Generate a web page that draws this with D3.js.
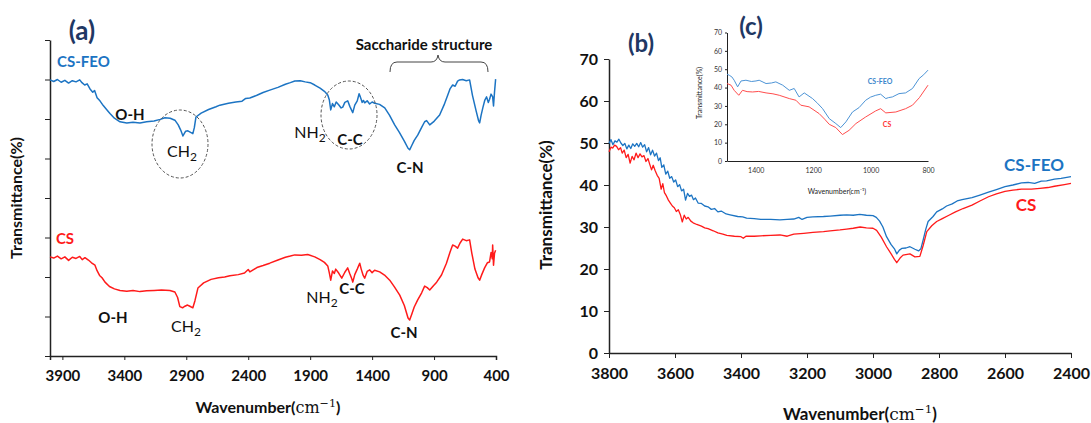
<!DOCTYPE html>
<html>
<head>
<meta charset="utf-8">
<script src="https://cdn.jsdelivr.net/npm/d3@7"></script>
<style>
  body { margin: 0; background: #fff; }
  text { font-family: Lato, "Open Sans", sans-serif; }
  .axis path, .axis line { stroke: #222; }
</style>
</head>
<body>
<svg width="1091" height="423"></svg>
<script>
// ---- data (wavenumber cm-1, transmittance) ----
// panel (a), arbitrary offset units
var feoA = [[4000,69.9],[3970,69.5],[3940,70.0],[3910,69.3],[3880,69.8],[3850,69.1],[3820,69.7],[3790,69.4],[3760,69.9],[3742,69.2],
  [3720,68.6],[3700,68.9],[3677,67.6],[3655,66.8],[3640,67.2],[3620,65.4],[3597,64.6],[3570,63.4],[3540,62.3],[3516,61.4],[3480,60.2],
  [3435,59.3],[3380,59.0],[3330,59.2],[3274,59.0],[3220,59.3],[3160,59.5],[3110,59.9],[3073,60.3],[3030,60.2],[2992,59.7],[2965,58.5],
  [2945,57.2],[2927,55.7],[2905,56.9],[2887,57.0],[2865,56.6],[2847,56.3],[2835,57.8],[2822,60.5],[2780,61.5],[2720,62.4],[2660,63.1],
  [2629,63.5],[2560,64.0],[2500,64.3],[2450,64.5],[2420,65.2],[2387,65.3],[2330,66.0],[2280,66.7],[2226,67.3],[2160,68.0],[2100,68.8],
  [2060,69.2],[2024,69.6],[1980,69.7],[1940,69.4],[1900,69.2],[1863,68.6],[1820,67.8],[1785,67.0],[1758,66.1],[1745,64.8],[1734,62.3],
  [1720,63.9],[1705,63.1],[1690,64.3],[1670,63.6],[1650,62.8],[1637,63.0],[1620,64.2],[1597,64.6],[1580,63.2],[1565,62.2],[1556,61.6],
  [1540,63.5],[1520,64.6],[1505,66.4],[1495,65.6],[1480,64.2],[1470,64.7],[1460,64.1],[1440,64.6],[1420,63.8],[1400,64.3],[1379,64.0],
  [1340,63.7],[1298,62.8],[1260,61.0],[1218,58.5],[1180,56.6],[1140,54.4],[1110,52.6],[1097,52.2],[1080,53.3],[1060,54.6],[1032,55.9],
  [1000,57.9],[976,59.3],[960,59.6],[935,58.5],[900,59.4],[855,61.0],[820,63.5],[790,66.0],[770,67.7],[750,68.6],[730,68.3],[710,69.6],
  [694,69.9],[670,70.0],[640,69.7],[613,69.9],[590,66.0],[560,62.0],[540,59.5],[532,59.0],[520,61.0],[505,63.0],[490,64.8],[476,65.6],
  [462,64.2],[452,65.0],[440,66.3],[427,65.6],[420,63.3],[412,66.8],[403,70.1]];
var csA = [[4000,25.1],[3970,24.8],[3940,25.3],[3910,24.6],[3880,25.1],[3850,24.2],[3820,25.0],[3790,24.7],[3760,25.2],[3740,24.4],
  [3718,24.9],[3690,24.3],[3665,23.6],[3637,23.0],[3620,21.6],[3600,20.4],[3580,19.8],[3556,18.7],[3520,17.6],[3480,17.0],[3435,16.6],
  [3380,16.4],[3330,16.6],[3274,16.3],[3220,16.5],[3160,16.6],[3100,16.7],[3032,16.6],[2992,16.2],[2970,14.8],[2952,12.5],[2930,12.2],
  [2911,12.6],[2890,12.9],[2871,12.6],[2847,12.2],[2830,14.0],[2806,17.2],[2760,18.5],[2700,19.4],[2640,19.8],[2590,20.0],[2548,20.3],
  [2480,20.6],[2430,21.0],[2400,21.9],[2387,21.3],[2330,22.4],[2280,22.9],[2226,23.5],[2160,24.3],[2100,25.0],[2060,25.3],[2024,25.6],
  [1970,25.5],[1920,25.7],[1863,25.1],[1820,24.4],[1785,23.7],[1758,22.8],[1745,21.0],[1734,19.2],[1720,21.5],[1705,20.9],[1694,22.0],
  [1670,21.0],[1645,19.7],[1620,21.2],[1597,22.3],[1580,20.8],[1565,19.6],[1556,18.7],[1540,20.6],[1520,22.0],[1500,23.5],[1488,22.0],
  [1472,20.4],[1460,19.7],[1440,21.4],[1419,21.8],[1400,21.1],[1380,21.7],[1339,21.3],[1300,20.5],[1258,19.2],[1220,17.5],[1177,15.4],
  [1140,12.8],[1110,9.6],[1097,9.1],[1080,10.6],[1060,12.4],[1032,14.2],[1000,16.0],[976,17.7],[955,17.3],[935,16.7],[905,17.8],
  [879,18.7],[840,20.5],[800,23.5],[770,26.4],[750,28.1],[730,27.8],[710,27.3],[690,28.6],[669,29.6],[640,29.2],[613,29.4],[595,26.0],
  [570,22.0],[545,19.8],[532,19.2],[515,20.6],[492,22.3],[470,23.6],[452,23.8],[440,26.2],[430,24.6],[427,28.1],[420,23.0],[412,26.0],[403,26.8]];

// panel (b)
var feoB = [[3800,49.9],[3794,50.8],[3788,49.6],[3782,50.5],[3776,50.2],[3770,50.9],[3764,50.0],[3758,49.4],[3752,49.9],[3746,48.6],
  [3740,49.5],[3734,48.7],[3728,49.8],[3722,49.2],[3716,49.9],[3710,49.1],[3704,50.1],[3698,49.0],[3692,49.6],[3686,47.9],[3680,48.9],
  [3674,47.2],[3668,48.3],[3662,46.9],[3656,47.6],[3650,45.8],[3645,46.5],[3640,44.2],[3634,44.8],[3628,42.6],[3622,43.3],[3616,41.6],
  [3610,42.0],[3604,40.7],[3598,41.2],[3592,39.6],[3586,40.1],[3580,38.6],[3574,39.0],[3568,36.4],[3562,38.0],[3556,37.3],[3550,37.6],
  [3544,36.5],[3538,36.9],[3530,35.7],[3520,35.6],[3510,35.0],[3500,34.8],[3490,34.2],[3480,34.4],[3470,33.6],[3460,33.8],[3445,33.1],
  [3433,32.9],[3410,32.5],[3395,32.4],[3383,32.1],[3360,32.0],[3340,31.8],[3310,31.8],[3282,31.7],[3260,31.8],[3240,31.9],[3225,32.3],
  [3215,31.8],[3200,32.3],[3182,32.4],[3150,32.5],[3130,32.6],[3100,32.8],[3080,32.9],[3060,32.8],[3040,33.0],[3020,32.8],[3000,32.7],
  [2990,32.3],[2980,31.4],[2970,30.0],[2959,27.7],[2945,25.8],[2935,24.8],[2928,23.6],[2920,24.5],[2913,24.9],[2900,25.0],[2888,25.3],
  [2873,24.7],[2862,24.3],[2855,24.8],[2848,26.9],[2840,29.5],[2833,31.3],[2818,32.5],[2807,33.6],[2790,34.3],[2777,35.0],[2760,35.5],
  [2745,36.2],[2730,36.5],[2700,37.0],[2676,37.6],[2650,38.3],[2626,38.9],[2600,39.6],[2576,40.0],[2550,40.5],[2530,40.6],[2510,40.4],
  [2490,40.9],[2474,41.0],[2450,41.4],[2430,41.6],[2400,42.0]];
var csB = [[3800,47.9],[3794,49.0],[3789,48.8],[3783,49.5],[3777,49.2],[3771,48.4],[3765,48.9],[3760,47.6],[3754,48.3],[3748,46.5],
  [3742,47.3],[3736,45.2],[3730,46.8],[3724,46.0],[3718,47.6],[3712,46.5],[3706,47.4],[3700,46.7],[3694,47.0],[3688,45.6],[3682,46.3],
  [3676,44.8],[3671,43.6],[3666,44.7],[3660,43.4],[3654,42.3],[3648,41.6],[3642,39.0],[3637,40.3],[3632,38.2],[3626,37.4],[3620,36.4],
  [3614,35.7],[3608,35.0],[3602,34.6],[3596,33.7],[3590,34.1],[3584,33.0],[3578,31.2],[3572,32.8],[3566,31.9],[3560,32.3],[3552,31.4],
  [3545,31.0],[3534,30.6],[3520,30.2],[3510,29.8],[3500,29.6],[3484,29.1],[3470,28.6],[3455,28.3],[3443,28.0],[3420,27.8],[3400,27.7],
  [3393,27.3],[3385,27.8],[3360,27.8],[3340,27.9],[3310,28.0],[3282,28.1],[3260,27.8],[3240,28.3],[3210,28.5],[3182,28.7],[3150,28.9],
  [3130,29.1],[3100,29.3],[3080,29.5],[3060,29.7],[3039,30.0],[3020,29.8],[3000,29.7],[2989,29.2],[2975,27.6],[2959,25.3],[2945,23.6],
  [2935,22.3],[2928,21.5],[2918,22.6],[2909,23.3],[2888,23.6],[2873,22.9],[2858,23.0],[2848,25.6],[2837,28.9],[2822,30.3],[2807,31.3],
  [2790,32.0],[2770,32.8],[2750,33.6],[2727,34.4],[2700,35.2],[2676,36.2],[2650,37.2],[2626,37.9],[2600,38.5],[2576,38.8],[2550,39.0],
  [2520,39.0],[2494,39.2],[2470,39.4],[2450,39.7],[2420,40.1],[2400,40.4]];

// inset (c)
var feoC = [[1500,47.3],[1492,46.7],[1483,45.8],[1475,44.0],[1463,40.4],[1451,43.6],[1434,44.0],[1415,43.3],[1399,43.6],[1388,44.0],
  [1364,42.2],[1345,42.5],[1330,43.1],[1306,41.3],[1283,38.5],[1266,39.5],[1249,34.9],[1231,37.1],[1202,34.0],[1185,31.5],[1167,28.5],
  [1144,23.1],[1121,20.4],[1104,18.2],[1086,21.3],[1063,26.7],[1040,29.1],[1017,33.1],[1000,34.8],[982,35.8],[965,36.4],[947,34.0],
  [938,34.5],[924,34.9],[901,36.7],[878,37.1],[854,39.5],[831,44.9],[815,47.0],[800,49.5]];
var csC = [[1500,42.2],[1486,41.3],[1475,38.5],[1459,35.8],[1446,38.5],[1430,37.8],[1411,37.6],[1390,37.9],[1364,37.1],[1340,36.6],
  [1318,35.8],[1283,34.0],[1260,33.1],[1243,30.4],[1214,29.5],[1179,25.8],[1160,22.8],[1144,20.0],[1121,18.2],[1098,14.4],[1075,16.7],
  [1051,20.4],[1017,24.0],[982,27.3],[965,28.5],[947,26.2],[912,26.7],[878,28.5],[854,30.4],[830,34.5],[800,41.3]];

var ticksA = [3900, 3400, 2900, 2400, 1900, 1400, 900, 400];
var ticksB = [3800, 3600, 3400, 3200, 3000, 2800, 2600, 2400];
var ticksC = [1400, 1200, 1000, 800];

var blue = "#1c74c3", red = "#ff1a1a", navy = "#1f3864";
var fmt = d3.format("d");
var svg = d3.select("svg");

function addLine(data, x, y, color, w) {
  svg.append("path")
    .datum(data)
    .attr("fill", "none")
    .attr("stroke", color)
    .attr("stroke-width", w)
    .attr("stroke-linejoin", "round")
    .attr("d", d3.line().x(function(d) { return x(d[0]); }).y(function(d) { return y(d[1]); }));
}

function label(x, y, txt, size, color, anchor) {
  return svg.append("text").attr("x", x).attr("y", y)
    .attr("text-anchor", anchor || "middle")
    .attr("font-size", size).attr("font-weight", "bold")
    .attr("fill", color || "#111").text(txt);
}

// subscript labels in serif like CH2, NH2
function chem(x, y, base) {
  var t = svg.append("text").attr("x", x).attr("y", y).attr("text-anchor", "middle")
    .attr("font-family", "'DejaVu Serif', serif").attr("font-size", 16).attr("fill", "#111");
  t.append("tspan").text(base);
  t.append("tspan").attr("dy", 4).attr("font-size", 12).text("2");
}

function wavTitle(x, y, size) {
  var t = svg.append("text").attr("x", x).attr("y", y).attr("text-anchor", "middle")
    .attr("font-size", size).attr("font-weight", "bold").attr("fill", "#111");
  t.append("tspan").text("Wavenumber(");
  t.append("tspan").attr("font-family", "'DejaVu Serif', serif").attr("font-weight", "normal").text("cm");
  t.append("tspan").attr("font-family", "'DejaVu Serif', serif").attr("font-weight", "normal")
    .attr("dy", -size * 0.4).attr("font-size", size * 0.7).text("\u22121");
  t.append("tspan").attr("dy", size * 0.4).text(")");
}

function yTitle(x, y, txt, size) {
  svg.append("text").attr("transform", "translate(" + x + "," + y + ") rotate(-90)")
    .attr("text-anchor", "middle").attr("font-size", size).attr("font-weight", "bold")
    .attr("fill", "#111").text(txt);
}

// ===== panel (a) =====
var xA = d3.scaleLinear().domain([4000, 400]).range([50, 496]);
var yA = d3.scaleLinear().domain([0, 80]).range([356, 40]);

var axA = svg.append("g").attr("class", "axis").attr("transform", "translate(0,356)")
  .call(d3.axisBottom(xA).tickValues(ticksA).tickFormat(fmt).tickSize(4).tickPadding(10));
axA.selectAll("text").attr("font-size", 15).attr("font-weight", "bold").attr("fill", "#111")
  .attr("font-family", "Lato, sans-serif");
axA.select(".domain").attr("stroke-width", 1.5);

var ayA = svg.append("g").attr("class", "axis").attr("transform", "translate(50,0)")
  .call(d3.axisLeft(yA).ticks(8).tickFormat("").tickSize(5).tickSizeOuter(0));
ayA.select(".domain").attr("stroke-width", 1.5);

addLine(feoA, xA, yA, blue, 1.5);
addLine(csA, xA, yA, red, 1.5);

label(82, 40, "(a)", 26, navy);
label(57, 67, "CS-FEO", 15, blue, "start");
label(65, 244, "CS", 15, red);
label(130, 120, "O-H", 15);
label(113, 323, "O-H", 15);
chem(182, 157, "CH");
chem(186, 332, "CH");
chem(310, 138, "NH");
chem(322, 303, "NH");
label(350, 145, "C-C", 15);
label(352, 294, "C-C", 15);
label(410, 173, "C-N", 15);
label(404, 338, "C-N", 15);
label(424, 50, "Saccharide structure", 15);

svg.append("ellipse").attr("cx", 180).attr("cy", 144).attr("rx", 28).attr("ry", 34)
  .attr("fill", "none").attr("stroke", "#555").attr("stroke-dasharray", "3,2");
svg.append("ellipse").attr("cx", 349).attr("cy", 115).attr("rx", 28).attr("ry", 34)
  .attr("fill", "none").attr("stroke", "#555").attr("stroke-dasharray", "3,2");
svg.append("path")
  .attr("d", "M390,72 Q390,62 397,62 L431,62 Q437,62 438,55 Q439,62 445,62 L481,62 Q488,62 488,72")
  .attr("fill", "none").attr("stroke", "#444").attr("stroke-width", 1);

wavTitle(268, 413, 16);
yTitle(22, 198, "Transmittance(%)", 16);

// ===== panel (b) =====
var xB = d3.scaleLinear().domain([3800, 2400]).range([609, 1071]);
var yB = d3.scaleLinear().domain([0, 70]).range([353, 59]);

var axB = svg.append("g").attr("class", "axis").attr("transform", "translate(0,353)")
  .call(d3.axisBottom(xB).tickValues(ticksB).tickFormat(fmt).tickSize(5).tickSizeOuter(0).tickPadding(10));
axB.selectAll("text").attr("font-size", 16).attr("font-weight", "bold").attr("fill", "#111")
  .attr("font-family", "Lato, sans-serif");
axB.select(".domain").attr("stroke-width", 1.5);

var ayB = svg.append("g").attr("class", "axis").attr("transform", "translate(609,0)")
  .call(d3.axisLeft(yB).ticks(7).tickSize(5).tickSizeOuter(0).tickPadding(6));
ayB.selectAll("text").attr("font-size", 16).attr("font-weight", "bold").attr("fill", "#111")
  .attr("font-family", "Lato, sans-serif");
ayB.select(".domain").attr("stroke-width", 1.5);

addLine(feoB, xB, yB, blue, 1.3);
addLine(csB, xB, yB, red, 1.3);

label(641, 52, "(b)", 24, navy);
label(1034, 171, "CS-FEO", 17, blue);
label(1026, 211, "CS", 17, red);
wavTitle(860, 420, 17);
yTitle(552, 205, "Transmittance(%)", 17);

// ===== inset (c) =====
var xC = d3.scaleLinear().domain([1500, 800]).range([727, 928]);
var yC = d3.scaleLinear().domain([0, 70]).range([161, 32.5]);

var axC = svg.append("g").attr("class", "axis").attr("transform", "translate(0,161)")
  .call(d3.axisBottom(xC).tickValues(ticksC).tickFormat(fmt).tickSize(0).tickPadding(7));
axC.selectAll("text").attr("font-size", 7).attr("fill", "#333");
axC.select(".domain").attr("stroke", "#444");

var ayC = svg.append("g").attr("class", "axis").attr("transform", "translate(727,0)")
  .call(d3.axisLeft(yC).ticks(7).tickSize(2).tickSizeOuter(0).tickPadding(3));
ayC.selectAll("text").attr("font-size", 7).attr("fill", "#333");
ayC.select(".domain").attr("stroke", "#444");

addLine(feoC, xC, yC, "#4d94d6", 1);
addLine(csC, xC, yC, "#ff4d4d", 1);

label(751, 35, "(c)", 24, navy);
label(880, 84, "CS-FEO", 7, "#3a86cc");
label(887, 127, "CS", 7, "#ff3333");

svg.append("text").attr("x", 837).attr("y", 194).attr("text-anchor", "middle")
  .attr("font-size", 7).attr("fill", "#222").text("Wavenumber(cm\u207B\u00B9)");
svg.append("text").attr("transform", "translate(702,93) rotate(-90)")
  .attr("text-anchor", "middle").attr("font-size", 7).attr("fill", "#222").text("Transmittance(%)");
</script>
</body>
</html>
